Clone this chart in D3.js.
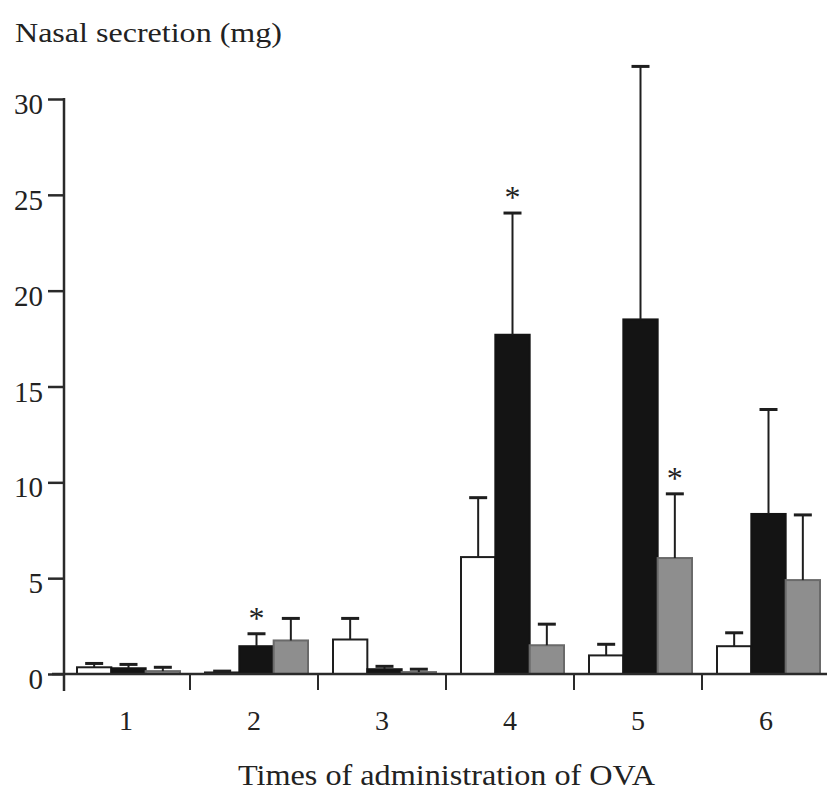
<!DOCTYPE html>
<html>
<head>
<meta charset="utf-8">
<script src="https://cdn.jsdelivr.net/npm/d3@7"></script>
<style>
  body { margin: 0; background: #fff; }
  svg text { font-family: "Liberation Serif", "Times New Roman", Times, serif; fill: #222; }
</style>
</head>
<body>
<svg id="svg" width="827" height="794"></svg>
<script>
// values
var categories = ["1", "2", "3", "4", "5", "6"];
var seriesNames = ["white", "black", "gray"];
var whiteMean = [0.35, 0.08, 1.8, 6.1, 0.97, 1.45];
var whiteErr  = [0.2, 0.07, 1.1, 3.1, 0.58, 0.7];
var blackMean = [0.3, 1.45, 0.25, 17.7, 18.5, 8.35];
var blackErr  = [0.2, 0.65, 0.15, 6.35, 13.2, 5.45];
var grayMean  = [0.15, 1.75, 0.1, 1.5, 6.05, 4.9];
var grayErr   = [0.2, 1.15, 0.15, 1.1, 3.35, 3.4];
var yTicks = [0, 5, 10, 15, 20, 25, 30];
// significance marks: [category, series]
var stars = [["2", "black"], ["4", "black"], ["5", "gray"]];

var fills = { white: "#ffffff", black: "#141414", gray: "#8e8e8e" };
var strokes = { white: "#1e1e1e", black: "#141414", gray: "#6a6a6a" };

var rows = [];
categories.forEach(function(c, i) {
  rows.push({cat: c, s: "white", v: whiteMean[i], e: whiteErr[i]});
  rows.push({cat: c, s: "black", v: blackMean[i], e: blackErr[i]});
  rows.push({cat: c, s: "gray", v: grayMean[i], e: grayErr[i]});
});

var svg = d3.select("#svg");

var x = d3.scaleBand().domain(categories).range([62, 830]).padding(0);
var xs = d3.scaleBand().domain(seriesNames)
  .range([15, 118]).padding(0);
var y = d3.scaleLinear().domain([0, 30]).range([674, 99]);

// y axis
let yAxis = svg.append("g")
  .attr("transform", "translate(64,0)")
  .call(d3.axisLeft(y).tickValues(yTicks).tickSize(16).tickPadding(5));
yAxis.attr("font-family", null);
yAxis.select(".domain").remove();
yAxis.selectAll(".tick line").attr("stroke", "#2a2a2a").attr("stroke-width", 2.5);
yAxis.selectAll(".tick text")
  .attr("font-size", 29)
  .attr("dy", "0.5em");
svg.append("line")
  .attr("x1", 64).attr("x2", 64)
  .attr("y1", y(30) - 1).attr("y2", 691)
  .attr("stroke", "#2a2a2a").attr("stroke-width", 2.5);

// bars
let bars = svg.append("g").classed("bars", true);
bars.selectAll("rect")
  .data(rows)
  .enter().append("rect")
  .attr("x", d => x(d.cat) + xs(d.s))
  .attr("width", xs.bandwidth())
  .attr("y", d => y(d.v))
  .attr("height", d => y(0) - y(d.v))
  .attr("fill", d => fills[d.s])
  .attr("stroke", d => strokes[d.s])
  .attr("stroke-width", 2);

// error bars (upper only)
let errs = svg.append("g").classed("errs", true);
rows.forEach(function(d) {
  let cx = x(d.cat) + xs(d.s) + xs.bandwidth() / 2;
  let top = y(d.v + d.e);
  errs.append("line")
    .attr("x1", cx).attr("x2", cx)
    .attr("y1", y(d.v)).attr("y2", top)
    .attr("stroke", "#1e1e1e").attr("stroke-width", 2);
  errs.append("line")
    .attr("x1", cx - 9).attr("x2", cx + 9)
    .attr("y1", top).attr("y2", top)
    .attr("stroke", "#1e1e1e").attr("stroke-width", 3);
});

// asterisks
stars.forEach(function(st) {
  let d = rows.find(r => r.cat === st[0] && r.s === st[1]);
  svg.append("text")
    .attr("x", x(d.cat) + xs(d.s) + xs.bandwidth() / 2)
    .attr("y", y(d.v + d.e) - 5)
    .attr("text-anchor", "middle")
    .attr("font-size", 32)
    .text("*");
});

// x axis: line, boundary ticks, category labels
svg.append("line")
  .attr("x1", 52).attr("x2", 827)
  .attr("y1", y(0)).attr("y2", y(0))
  .attr("stroke", "#2a2a2a").attr("stroke-width", 2.5);
svg.append("g")
  .selectAll("line")
  .data(categories.slice(1))
  .enter().append("line")
  .attr("x1", d => x(d)).attr("x2", d => x(d))
  .attr("y1", y(0)).attr("y2", y(0) + 16)
  .attr("stroke", "#2a2a2a").attr("stroke-width", 2);
svg.append("g")
  .selectAll("text")
  .data(categories)
  .enter().append("text")
  .attr("x", d => x(d) + x.bandwidth() / 2)
  .attr("y", 730)
  .attr("text-anchor", "middle")
  .attr("font-size", 28)
  .text(d => d);

// titles
svg.append("text")
  .attr("x", 15).attr("y", 42)
  .attr("font-size", 28)
  .attr("textLength", 267)
  .attr("lengthAdjust", "spacingAndGlyphs")
  .text("Nasal secretion (mg)");
svg.append("text")
  .attr("x", 238).attr("y", 785)
  .attr("font-size", 30)
  .attr("textLength", 417)
  .attr("lengthAdjust", "spacingAndGlyphs")
  .text("Times of administration of OVA");
</script>
</body>
</html>
